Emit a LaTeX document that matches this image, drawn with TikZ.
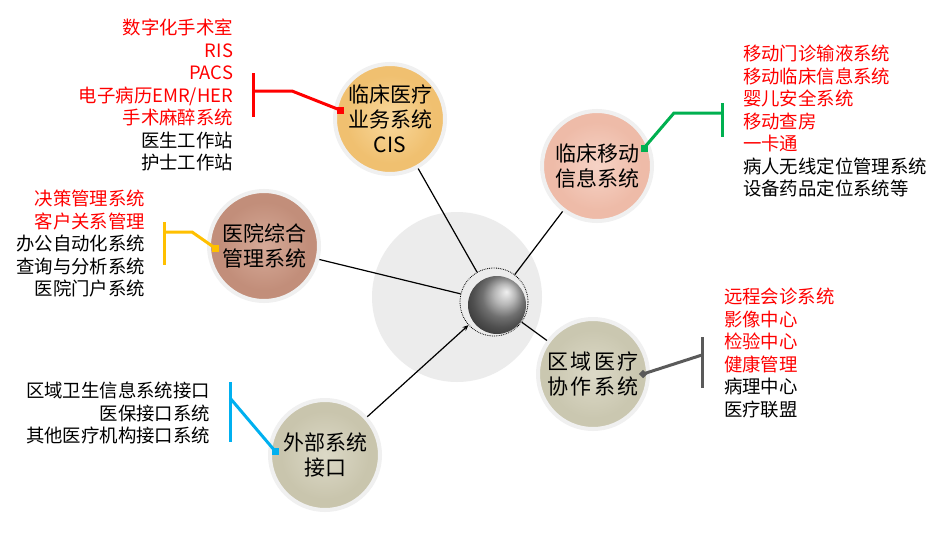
\documentclass[tikz,border=0pt]{standalone}
\usepackage{fontspec}
\newfontfamily\cjk{Noto Sans CJK SC}
\newfontfamily\cjkwide[LetterSpace=10]{Noto Sans CJK SC}
\usetikzlibrary{arrows.meta}
\definecolor{cred}{HTML}{FF0000}
\definecolor{cgreen}{HTML}{00B050}
\definecolor{cyellow}{HTML}{FFC000}
\definecolor{cblue}{HTML}{00B0F0}
\definecolor{cgrey}{HTML}{5A5A5A}
\definecolor{rimc}{HTML}{F0F0F0}
\colorlet{orbhi}{white}\colorlet{orbin}{gray}\colorlet{orbout}{black}
\pgfdeclareradialshading[orbhi,orbin,orbout]{orb}{\pgfpoint{0bp}{0bp}}{color(0bp)=(orbhi); color(20bp)=(orbin); color(40bp)=(orbin); color(50bp)=(orbout)}
\begin{document}
\begin{tikzpicture}[x=1pt,y=-1pt,
  lst/.style={font=\cjk\fontsize{18.4}{22.5}\selectfont, inner sep=0, outer sep=0},
  orbnode/.style={circle, minimum size=110, inner sep=0, shade, shading=orb, draw=rimc, line width=4, align=center, font=\cjk\fontsize{21}{25}\selectfont},
  link/.style={line width=1.2, black},
  brk/.style={line width=3},
  sq/.style={rectangle, minimum size=7, inner sep=0}]
\useasboundingbox[fill=white] (0,0) rectangle (937,546);
% background disk
\fill[gray!15] (457,297) circle (85);
% hub
\node[circle, minimum size=68, inner sep=0, fill=white!85!gray, draw=black, densely dotted, line width=0.8] (hub) at (494,302) {};
\node[circle, minimum size=58, inner sep=0, shade, shading=ball, ball color=gray!75, shading angle=-80] (ball) at (497,305) {};
% circles
\definecolor{orbhi}{HTML}{F8D89C}\definecolor{orbin}{HTML}{F0C070}\definecolor{orbout}{HTML}{D49A45}
\node[orbnode] (cis) at (390,119) {临床医疗\\业务系统\\CIS};
\definecolor{orbhi}{HTML}{F6D3C6}\definecolor{orbin}{HTML}{EEBBA8}\definecolor{orbout}{HTML}{D39882}
\node[orbnode] (mob) at (597,166) {临床移动\\信息系统};
\definecolor{orbhi}{HTML}{D6AA98}\definecolor{orbin}{HTML}{C28E7A}\definecolor{orbout}{HTML}{9E6450}
\node[orbnode] (hosp) at (264,246) {医院综合\\管理系统};
\definecolor{orbhi}{HTML}{DCD9C7}\definecolor{orbin}{HTML}{C9C5AD}\definecolor{orbout}{HTML}{A5A087}
\node[orbnode] (ext) at (325,455) {外部系统\\接口};
\definecolor{orbhi}{HTML}{DCD9C7}\definecolor{orbin}{HTML}{CAC7B0}\definecolor{orbout}{HTML}{A6A289}
\node[orbnode, font=\cjkwide\fontsize{21}{25}\selectfont] (reg) at (593,374) {区域医疗\\协作系统};
% links to hub
\draw[link] (cis) -- (hub);
\draw[link] (mob) -- (hub);
\draw[link] (hosp) -- (hub);
\draw[link, -{Stealth[length=6,width=5]}] (ext) -- (hub);
\draw[link] (reg) -- (hub);
% red bracket
\coordinate (ra) at (253,73); \coordinate (rb) at (253,117);
\coordinate (rc) at (253,91); \coordinate (rd) at (292,91); \coordinate (re) at (340,110);
\draw[brk, cred] (ra) -- (rb);
\draw[brk, cred] (rc) -- (rd) -- (re);
\node[sq, fill=cred] (rm) at (re) {};
% green bracket
\coordinate (ga) at (722,103); \coordinate (gb) at (722,137);
\coordinate (gc) at (722,113); \coordinate (gd) at (674,113); \coordinate (ge) at (644,148);
\draw[brk, cgreen] (ga) -- (gb);
\draw[brk, cgreen] (gc) -- (gd) -- (ge);
\node[sq, fill=cgreen] (gm) at (ge) {};
% yellow bracket
\coordinate (ya) at (164,222); \coordinate (yb) at (164,265);
\coordinate (yc) at (164,232); \coordinate (yd) at (192,232); \coordinate (ye) at (215,248);
\draw[brk, cyellow] (ya) -- (yb);
\draw[brk, cyellow] (yc) -- (yd) -- (ye);
\node[sq, fill=cyellow] (ym) at (ye) {};
% blue bracket
\coordinate (ba) at (230,382); \coordinate (bb) at (230,442);
\coordinate (bc) at (230,398); \coordinate (be) at (275,451);
\draw[brk, cblue] (ba) -- (bb);
\draw[brk, cblue] (bc) -- (be);
\node[sq, fill=cblue] (bm) at (be) {};
% grey bracket
\coordinate (ka) at (702,337); \coordinate (kb) at (702,388);
\coordinate (kc) at (702,355); \coordinate (ke) at (643,374);
\draw[brk, cgrey] (ka) -- (kb);
\draw[brk, cgrey] (kc) -- (ke);
\node[sq, fill=cgrey, rotate=45, minimum size=6] (km) at (ke) {};
% lists
\node[lst, anchor=north east, align=right, text=cred] (cislist) at (233,19)
  {数字化手术室\\RIS\\PACS\\电子病历EMR/HER\\手术麻醉系统\\\textcolor{black}{医生工作站}\\\textcolor{black}{护士工作站}};
\node[lst, anchor=north west, align=left, text=cred] (moblist) at (743,45)
  {移动门诊输液系统\\移动临床信息系统\\婴儿安全系统\\移动查房\\一卡通\\\textcolor{black}{病人无线定位管理系统}\\\textcolor{black}{设备药品定位系统等}};
\node[lst, anchor=north east, align=right, text=cred] (hosplist) at (145,190)
  {决策管理系统\\客户关系管理\\\textcolor{black}{办公自动化系统}\\\textcolor{black}{查询与分析系统}\\\textcolor{black}{医院门户系统}};
\node[lst, anchor=north east, align=right] (extlist) at (210,382)
  {区域卫生信息系统接口\\医保接口系统\\其他医疗机构接口系统};
\node[lst, anchor=north west, align=left, text=cred] (reglist) at (724,288)
  {远程会诊系统\\影像中心\\检验中心\\健康管理\\\textcolor{black}{病理中心}\\\textcolor{black}{医疗联盟}};
\end{tikzpicture}
\end{document}
